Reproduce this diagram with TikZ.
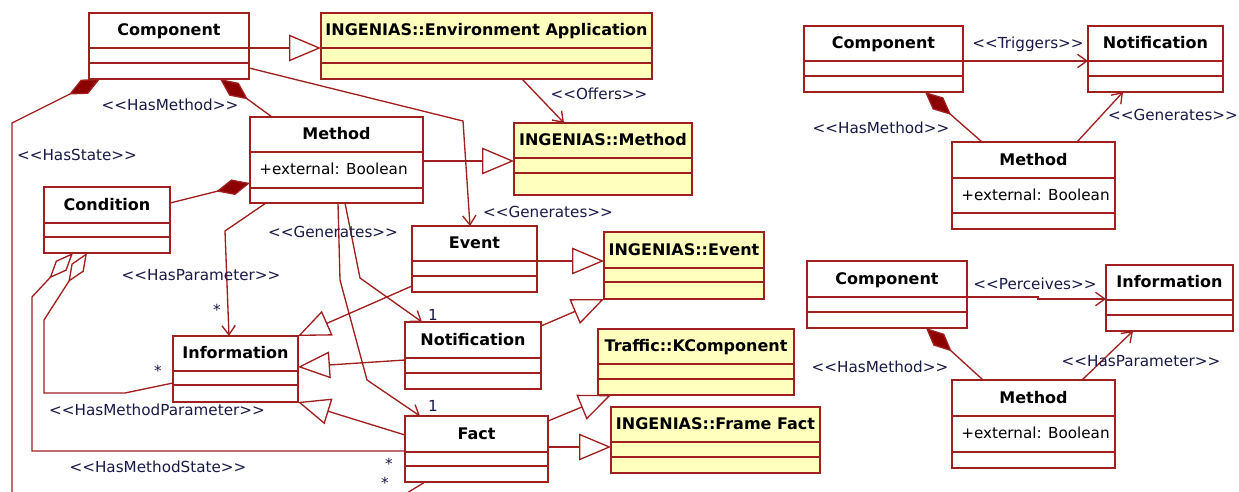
\documentclass[tikz,border=0pt]{standalone}
\usepackage{fontspec}
\newfontfamily\umlfont{DejaVu Sans}
\usetikzlibrary{arrows.meta,calc}
\definecolor{umlred}{RGB}{160,32,32}
\definecolor{dmred}{RGB}{140,0,0}
\definecolor{umlyellow}{RGB}{255,255,190}
\definecolor{lbl}{RGB}{25,25,70}
\tikzset{
 classbox/.style={draw=umlred, line width=1pt, rectangle, inner sep=0pt, outer sep=0pt},
 divider/.style={draw=umlred, line width=1pt},
 ctitle/.style={font=\umlfont\fontsize{12pt}{14pt}\selectfont\bfseries, text=black, inner sep=0pt, anchor=base},
 cattr/.style={font=\umlfont\fontsize{11.4pt}{13pt}\selectfont, text=black, inner sep=0pt, anchor=base west},
 lab/.style={font=\umlfont\fontsize{11.4pt}{13pt}\selectfont, text=lbl, inner sep=0pt, anchor=base},
 mult/.style={font=\umlfont\fontsize{11.4pt}{13pt}\selectfont, text=lbl, inner sep=0pt},
 conn/.style={draw=umlred, line width=1pt},
 assoc/.style={conn, -{Straight Barb[length=7pt,width=10pt]}},
 gen/.style={conn, -{Triangle[length=24pt,width=20pt,fill=white]}},
 compos/.style={conn, {Diamond[length=26pt,width=12pt,fill=dmred]}-},
 aggr/.style={conn, {Diamond[length=26pt,width=11pt,fill=white]}-},
}
\newcommand{\umlclass}[9]{%
 \node[classbox, fill=#9, anchor=north west, minimum width={(#4-#2)*0.75pt}, minimum height={(#5-#3)*0.75pt}] (#1) at (#2,#3) {};
 \draw[divider] (#2,#6) -- (#4,#6) (#2,#7) -- (#4,#7);
 \node[ctitle] (#1-t) at ({(#2+#4)/2},{(#3+#6)/2+5}) {#8};
}
\begin{document}
\begin{tikzpicture}[x=0.75pt,y=-0.75pt]
\useasboundingbox[fill=white] (0,0) rectangle (1239,492);
% ---------- classes ----------
\umlclass{comp}{89}{13}{249}{79}{48}{63}{Component}{white}
\umlclass{envapp}{321}{13}{652}{79}{48}{63}{INGENIAS::Environment Application}{umlyellow}
\umlclass{meth}{250}{117}{423}{203}{152}{188}{Method}{white}
\umlclass{imeth}{514}{123}{692}{195}{158}{173}{INGENIAS::Method}{umlyellow}
\umlclass{cond}{44}{187}{170}{253}{223}{237}{Condition}{white}
\umlclass{event}{412}{226}{537}{292}{261}{276}{Event}{white}
\umlclass{ievent}{604}{232}{764}{299}{268}{282}{INGENIAS::Event}{umlyellow}
\umlclass{notif}{405}{322}{541}{389}{358}{373}{Notification}{white}
\umlclass{info}{173}{336}{298}{402}{371}{385}{Information}{white}
\umlclass{kcomp}{598}{329}{794}{395}{364}{379}{Traffic::KComponent}{umlyellow}
\umlclass{fact}{405}{416}{548}{482}{452}{466}{Fact}{white}
\umlclass{ffact}{611}{407}{820}{473}{442}{457}{INGENIAS::Frame Fact}{umlyellow}
\umlclass{comp2}{804}{26}{963}{92}{61}{76}{Component}{white}
\umlclass{notif2}{1088}{26}{1223}{92}{61}{76}{Notification}{white}
\umlclass{meth2}{952}{142}{1115}{229}{178}{213}{Method}{white}
\umlclass{comp3}{807}{261}{967}{328}{297}{312}{Component}{white}
\umlclass{info2}{1106}{265}{1233}{331}{300}{315}{Information}{white}
\umlclass{meth3}{952}{380}{1115}{468}{416}{452}{Method}{white}
\node[cattr] (meth-a) at (259,174) {+external: Boolean};
\node[cattr] (meth2-a) at (961,200) {+external: Boolean};
\node[cattr] (meth3-a) at (961,438) {+external: Boolean};
% ---------- left diagram connectors ----------
\draw[gen] ($(comp.north east)+(0,35)$) -- ($(envapp.north west)+(0,35)$);
\coordinate (hsbend) at (12,123);
\coordinate (hsend) at (12,493);
\draw[compos] ($(comp.south west)+(11,0)$) -- (hsbend) -- (hsend);
\draw[compos] ($(comp.south west)+(131,0)$) -- ($(meth.north west)+(22,0)$);
\coordinate (evbend) at (463,121);
\draw[assoc] ($(comp.north east)+(0,55)$) -- (evbend) -- ($(event.north west)+(58,0)$);
\draw[assoc] ($(envapp.south west)+(201,0)$) -- ($(imeth.north west)+(50,0)$);
\draw[gen] ($(meth.north east)+(0,44)$) -- ($(imeth.north west)+(0,38)$);
\draw[compos] ($(meth.north west)+(0,66)$) -- ($(cond.north east)+(0,16)$);
\coordinate (hpbend) at (225,231);
\draw[assoc] ($(meth.south west)+(16,0)$) -- (hpbend) -- ($(info.north west)+(56,0)$);
\coordinate (gnbend) at (360,278);
\draw[assoc] ($(meth.south west)+(95,0)$) -- (gnbend) -- ($(notif.north west)+(17,0)$);
\coordinate (gfbend1) at (340,280);
\coordinate (gfbend2) at (367,380);
\draw[assoc] ($(meth.south west)+(88,0)$) -- (gfbend1) -- (gfbend2) -- ($(fact.north west)+(15,0)$);
\draw[gen] ($(event.north east)+(0,35)$) -- ($(ievent.north west)+(0,29)$);
\draw[gen] ($(notif.north east)+(0,4)$) -- (ievent.south west);
\draw[gen] ($(event.south west)+(0,-6)$) -- (info.north east);
\draw[gen] ($(notif.north west)+(0,38)$) -- ($(info.north east)+(0,31)$);
\draw[gen] ($(fact.north west)+(0,19)$) -- (info.south east);
\draw[gen] ($(fact.north east)+(0,5)$) -- ($(kcomp.south west)+(13,0)$);
\draw[gen] ($(fact.north east)+(0,31)$) -- ($(ffact.north west)+(0,40)$);
\coordinate (msb1) at (32,297);
\coordinate (msb2) at (32,451);
\draw[aggr] ($(cond.south west)+(29,0)$) -- (msb1) -- (msb2) -- ($(fact.north west)+(0,35)$);
\coordinate (mpb1) at (44,320);
\coordinate (mpb2) at (44,393);
\coordinate (mpb3) at (125,393);
\draw[aggr] ($(cond.south west)+(43,0)$) -- (mpb1) -- (mpb2) -- (mpb3) -- ($(info.south west)+(0,-19)$);
\coordinate (fctend) at (407,493);
\draw[conn] ($(fact.south west)+(20,0)$) -- (fctend);
% ---------- left labels ----------
\node[lab] (l1) at (170,110) {<<HasMethod>>};
\node[lab] (l2) at (77,160) {<<HasState>>};
\node[lab] (l3) at (599,99) {<<Offers>>};
\node[lab] (l4) at (548,217) {<<Generates>>};
\node[lab] (l5) at (333,237) {<<Generates>>};
\node[lab] (l6) at (201,280) {<<HasParameter>>};
\node[lab] (l7) at (157,415) {<<HasMethodParameter>>};
\node[lab] (l8) at (158,472) {<<HasMethodState>>};
\node[mult] (m1) at (217,310) {*};
\node[mult] (m2) at (158,371) {*};
\node[mult] (m3) at (389,464) {*};
\node[mult] (m4) at (385,483) {*};
\node[mult] (m5) at (433,315) {1};
\node[mult] (m6) at (433,406) {1};
% ---------- right top diagram ----------
\draw[assoc] ($(comp2.north east)+(0,35)$) -- ($(notif2.north west)+(0,35)$);
\draw[compos] ($(comp2.south west)+(121,0)$) -- ($(meth2.north west)+(30,0)$);
\draw[assoc] ($(meth2.north west)+(125,0)$) -- ($(notif2.south west)+(35,0)$);
\node[lab] (r1) at (1028,49) {<<Triggers>>};
\node[lab] (r2) at (881,133) {<<HasMethod>>};
\node[lab] (r3) at (1173,121) {<<Generates>>};
% ---------- right bottom diagram ----------
\coordinate (pb1) at (1038,297);
\coordinate (pb2) at (1038,299);
\draw[assoc] ($(comp3.north east)+(0,36)$) -- (pb1) -- (pb2) -- ($(info2.north west)+(0,34)$);
\draw[compos] ($(comp3.south west)+(119,0)$) -- ($(meth3.north west)+(31,0)$);
\draw[assoc] ($(meth3.north west)+(130,0)$) -- ($(info2.south west)+(27,0)$);
\node[lab] (r4) at (1035,289) {<<Perceives>>};
\node[lab] (r5) at (880,372) {<<HasMethod>>};
\node[lab] (r6) at (1141,366) {<<HasParameter>>};
\end{tikzpicture}
\end{document}
